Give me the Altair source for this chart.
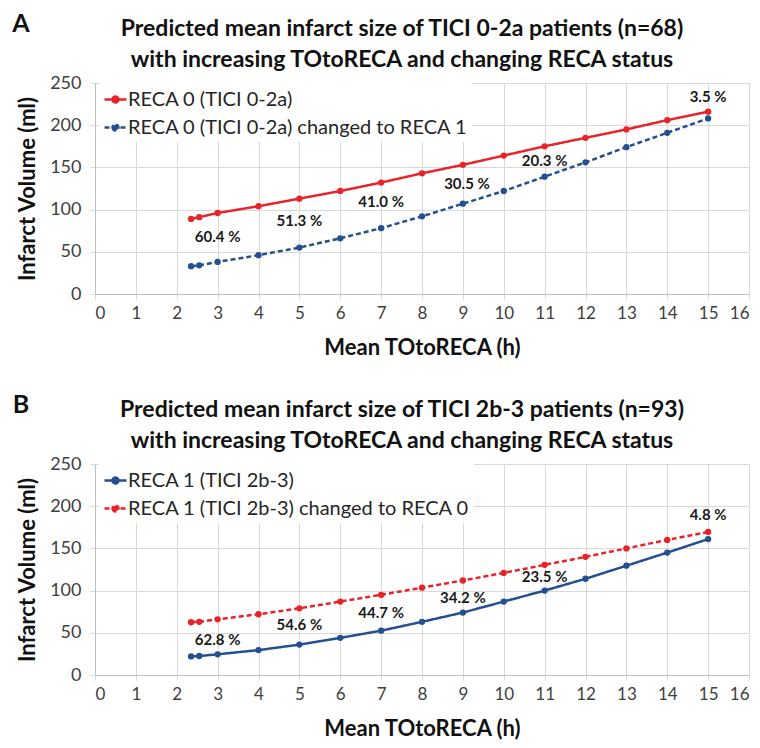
import altair as alt
import pandas as pd

# ---------------- data ----------------
x_hours = [2.35, 2.55, 3, 4, 5, 6, 7, 8, 9, 10, 11, 12, 13, 14, 15]

a_series = ["RECA 0 (TICI 0-2a)", "RECA 0 (TICI 0-2a) changed to RECA 1"]
a_reca0 = [89, 91, 96, 104, 113, 122, 132, 143, 153, 164, 175, 185, 195, 206, 216]
a_changed = [33, 34, 38, 46, 55, 66, 78, 92, 107, 122, 139, 156, 174, 191, 208]
a_lab_x = [3, 5, 7, 9.1, 11, 15]
a_lab_y = [67.5, 87, 109, 130, 157, 234]
a_lab_t = ["60.4 %", "51.3 %", "41.0 %", "30.5 %", "20.3 %", "3.5 %"]

b_series = ["RECA 1 (TICI 2b-3)", "RECA 1 (TICI 2b-3) changed to RECA 0"]
b_reca1 = [22, 22.5, 24.5, 29.5, 36, 44, 52.5, 63, 74, 87, 100, 114, 129.5, 145, 161]
b_changed = [62.5, 63, 66, 72, 79, 87, 95, 103.5, 112, 121, 130.5, 140, 150, 160, 169.5]
b_lab_x = [3, 5, 7, 9, 11, 15]
b_lab_y = [42, 59.5, 74, 91, 116, 189]
b_lab_t = ["62.8 %", "54.6 %", "44.7 %", "34.2 %", "23.5 %", "4.8 %"]

a_title = ["Predicted mean infarct size of TICI 0-2a patients (n=68)",
           "with increasing TOtoRECA and changing RECA status"]
b_title = ["Predicted mean infarct size of TICI 2b-3 patients (n=93)",
           "with increasing TOtoRECA and changing RECA status"]

RED = "#e8242b"
BLUE = "#24508f"
FONT = "Lato"

x_ticks = list(range(0, 17))
y_ticks = [0, 50, 100, 150, 200, 250]

SYMBOL = ("M-1,0L1,0M-0.27,0a0.27,0.27 0 1,0 0.54,0"
          "a0.27,0.27 0 1,0 -0.54,0")


def panel(letter, title, series, first_vals, second_vals, colors,
          lab_x, lab_y, lab_t):
    rows = []
    for s, vals in ((series[0], first_vals), (series[1], second_vals)):
        for xv, yv in zip(x_hours, vals):
            rows.append({"x": xv, "y": yv, "series": s})
    df = pd.DataFrame(rows)

    xenc = alt.X("x:Q", scale=alt.Scale(domain=[0, 16], nice=False),
                 axis=alt.Axis(values=x_ticks, title="Mean TOtoRECA (h)"))
    yenc = alt.Y("y:Q", scale=alt.Scale(domain=[0, 250], nice=False),
                 axis=alt.Axis(values=y_ticks, title="Infarct Volume (ml)"))
    leg = alt.Legend(title=None, orient="none", legendX=4, legendY=0,
                     symbolType=SYMBOL, symbolSize=484, symbolStrokeWidth=2.5,
                     labelFontSize=20, labelFont=FONT, labelColor="#262626",
                     labelOffset=0, rowPadding=5, fillColor="white",
                     padding=4, labelLimit=450)
    color = alt.Color("series:N", scale=alt.Scale(domain=series, range=colors),
                      legend=leg)
    dash = alt.StrokeDash("series:N",
                          scale=alt.Scale(domain=series, range=[[1, 0], [5, 3]]),
                          legend=leg)

    lines = alt.Chart(df).mark_line(strokeWidth=2.5).encode(
        x=xenc, y=yenc, color=color, strokeDash=dash)
    pts = alt.Chart(df).mark_point(filled=True, size=40, opacity=1).encode(
        x="x:Q", y="y:Q", color=alt.Color("series:N", legend=None,
                                          scale=alt.Scale(domain=series, range=colors)))
    lab_df = pd.DataFrame({"x": lab_x, "y": lab_y, "t": lab_t})
    labels = alt.Chart(lab_df).mark_text(
        font=FONT, fontSize=15, fontWeight="bold", color="#1a1a1a").encode(
        x="x:Q", y="y:Q", text="t:N")
    letter_df = pd.DataFrame({"t": [letter]})
    letter_mark = alt.Chart(letter_df).mark_text(
        font=FONT, fontSize=25, fontWeight="bold", color="#111111",
        align="center", baseline="middle").encode(
        x=alt.value(-74), y=alt.value(-59), text="t:N")

    return alt.layer(lines, pts, labels, letter_mark).properties(
        width=654, height=211,
        title=alt.TitleParams(text=title, fontSize=23, font=FONT,
                              fontWeight="bold", lineHeight=31, offset=14,
                              anchor="middle", dx=-20, dy=74, color="#111111"))


top = panel("A", a_title, a_series, a_reca0, a_changed, [RED, BLUE],
            a_lab_x, a_lab_y, a_lab_t)
bottom = panel("B", b_title, b_series, b_reca1, b_changed, [BLUE, RED],
               b_lab_x, b_lab_y, b_lab_t)

chart = alt.vconcat(top, bottom, spacing=33).resolve_scale(
    color="independent", strokeDash="independent").properties(
    padding={"left": 3, "top": 3, "right": 0, "bottom": 0}).configure_view(
    stroke="#d9d9d9").configure_axis(
    grid=True, gridColor="#d9d9d9", domainColor="#bfbfbf", tickColor="#d9d9d9",
    tickSize=5, labelFont=FONT, labelColor="#404040",
    titleFont=FONT, titleFontSize=22, titleFontWeight="bold", titleColor="#111111"
).configure_axisX(titlePadding=16, labelPadding=6, labelFontSize=17).configure_axisY(
    titlePadding=10, labelPadding=9, labelFontSize=18)

chart.save("out.html", embed_options={"renderer": "svg", "actions": False})
